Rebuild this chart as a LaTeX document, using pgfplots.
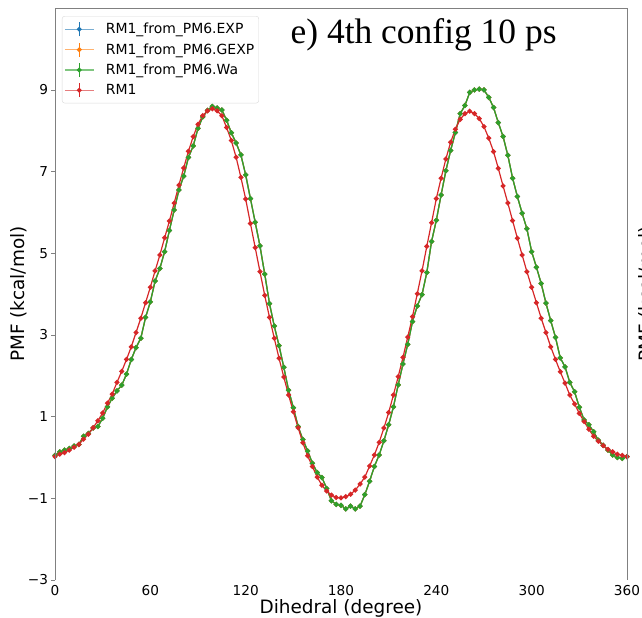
\documentclass[border=0pt]{standalone}
\usepackage{fontspec}
\setmainfont{DejaVu Sans}
\newfontfamily\timesf{Liberation Serif}
\usepackage{pgfplots}
\pgfplotsset{compat=1.18}
\usepackage{pgfplotstable}
\definecolor{tabblue}{HTML}{1F77B4}
\definecolor{taborange}{HTML}{FF7F0E}
\definecolor{tabgreen}{HTML}{2CA02C}
\definecolor{tabred}{HTML}{D62728}
\definecolor{spine}{HTML}{808080}

\pgfplotstableread{
x y
0 0.05
3 0.14
6 0.18
9 0.22
12 0.28
15 0.32
18 0.52
21 0.59
24 0.72
27 0.76
30 0.96
33 1.24
36 1.45
39 1.63
42 1.77
45 2.04
48 2.40
51 2.69
54 2.92
57 3.43
60 3.81
63 4.32
66 4.63
69 5.04
72 5.56
75 6.06
78 6.55
81 6.89
84 7.35
87 7.63
90 8.06
93 8.34
96 8.50
99 8.60
102 8.56
105 8.51
108 8.26
111 7.95
114 7.70
117 7.41
120 6.92
123 6.34
126 5.76
129 5.18
132 4.49
135 3.77
138 3.22
141 2.74
144 2.21
147 1.65
150 1.22
153 0.76
156 0.44
159 0.16
162 -0.14
165 -0.37
168 -0.49
171 -0.76
174 -1.06
177 -1.15
180 -1.17
183 -1.26
186 -1.19
189 -1.26
192 -1.19
195 -0.91
198 -0.58
201 -0.22
204 0.06
207 0.41
210 0.80
213 1.24
216 1.78
219 2.29
222 2.77
225 3.33
228 3.71
231 3.99
234 4.53
237 5.29
240 5.81
243 6.43
246 7.02
249 7.52
252 7.96
255 8.42
258 8.62
261 8.94
264 9.00
267 9.02
270 9.00
273 8.82
276 8.57
279 8.20
282 7.86
285 7.40
288 6.84
291 6.39
294 5.98
297 5.60
300 5.04
303 4.66
306 4.26
309 3.78
312 3.35
315 2.94
318 2.44
321 2.22
324 1.84
327 1.61
330 1.23
333 0.92
336 0.80
339 0.63
342 0.42
345 0.30
348 0.18
351 0.06
354 0.00
357 -0.02
360 0.02
}\wa

\pgfplotstableread{
x y
0 0.02
3 0.08
6 0.12
9 0.18
12 0.25
15 0.32
18 0.45
21 0.57
24 0.73
27 0.90
30 1.09
33 1.33
36 1.55
39 1.84
42 2.11
45 2.40
48 2.71
51 3.06
54 3.41
57 3.79
60 4.17
63 4.57
66 4.96
69 5.38
72 5.79
75 6.23
78 6.67
81 7.09
84 7.50
87 7.86
90 8.16
93 8.37
96 8.49
99 8.54
102 8.49
105 8.37
108 8.08
111 7.76
114 7.35
117 6.86
120 6.33
123 5.73
126 5.14
129 4.55
132 3.97
135 3.43
138 2.92
141 2.43
144 1.97
147 1.53
150 1.12
153 0.73
156 0.36
159 0.04
162 -0.22
165 -0.48
168 -0.68
171 -0.82
174 -0.92
177 -0.98
180 -0.99
183 -0.96
186 -0.90
189 -0.80
192 -0.65
195 -0.48
198 -0.21
201 0.06
204 0.37
207 0.72
210 1.10
213 1.53
216 1.98
219 2.45
222 2.95
225 3.45
228 4.01
231 4.57
234 5.17
237 5.75
240 6.34
243 6.84
246 7.31
249 7.72
252 8.04
255 8.28
258 8.42
261 8.48
264 8.42
267 8.30
270 8.10
273 7.82
276 7.49
279 7.08
282 6.65
285 6.23
288 5.80
291 5.37
294 4.96
297 4.55
300 4.17
303 3.79
306 3.41
309 3.06
312 2.71
315 2.40
318 2.10
321 1.82
324 1.53
327 1.31
330 1.08
333 0.88
336 0.69
339 0.52
342 0.40
345 0.29
348 0.20
351 0.14
354 0.08
357 0.05
360 0.02
}\rmone

\begin{document}
\begin{tikzpicture}
\begin{axis}[
  name=ax,
  scale only axis,
  width=572bp, height=571.7bp,
  xmin=0, xmax=360, ymin=-3, ymax=11,
  axis line style={draw=none},
  xtick={0,60,120,180,240,300,360},
  xticklabels={0,60,120,180,240,300,360},
  ytick={-3,-1,1,3,5,7,9},
  yticklabels={−3,−1,1,3,5,7,9},
  tick align=outside,
  ytick pos=left,
  xtick style={draw=none},
  ytick style={spine, line width=0.8bp},
  major tick length=3.5bp,
  tick label style={font=\fontsize{13.7}{16}\selectfont},
  xticklabel style={anchor=base, yshift=-12bp},
  yticklabel style={anchor=east},
  xlabel={Dihedral (degree)},
  ylabel={PMF (kcal/mol)},
  label style={font=\fontsize{18.5}{22}\selectfont},
  xlabel style={at={(axis description cs:0.5,0)}, anchor=base, yshift=-33.5bp},
  ylabel style={at={(axis description cs:-0.063,0.5)}, anchor=center},
  legend cell align=left,
  legend image code/.code={
    \draw[mark=none, opacity=0.6] (0bp,0bp) -- (29bp,0bp);
    \draw[mark=none] (14.5bp,-7bp) -- (14.5bp,7bp);
    \fill (14.5bp,0bp) circle (1.8bp);
  },
  legend style={at={(axis description cs:0.0122,0.9865)}, anchor=north west,
    draw=black!15, rounded corners=2.5bp, fill=white,
    font=\fontsize{14}{16}\selectfont,
    inner xsep=2bp, inner ysep=4.5bp, row sep=3.3bp, column sep=9bp,
    nodes={inner sep=2.5bp}},
  every axis plot/.append style={line width=1.2bp, mark=*, mark size=1.9bp, mark options={solid}},
]
\addplot[tabblue] table[x=x,y=y] {\wa};
\addlegendentry{RM1\_from\_PM6.EXP}
\addplot[taborange] table[x=x,y=y] {\wa};
\addlegendentry{RM1\_from\_PM6.GEXP}
\addplot[tabgreen] table[x=x,y=y] {\wa};
\addlegendentry{RM1\_from\_PM6.Wa}
\addplot[tabred] table[x=x,y=y] {\rmone};
\addlegendentry{RM1}
\node[font=\timesf\fontsize{35.6}{40}\selectfont, anchor=base] at (axis cs:232,10.15) {e) 4th config 10 ps};
\end{axis}
\draw[spine, line width=0.8bp] (ax.south west) -- (ax.north west) -- (ax.north east) -- (ax.south east);
\node[rotate=90, font=\fontsize{18.5}{22}\selectfont, anchor=center] at ([xshift=20bp]ax.east) {PMF (kcal/mol)};
\pgfresetboundingbox
\useasboundingbox ([xshift=-55bp,yshift=-38bp]ax.south west) rectangle ([xshift=15bp,yshift=8.3bp]ax.north east);
\end{tikzpicture}
\end{document}
